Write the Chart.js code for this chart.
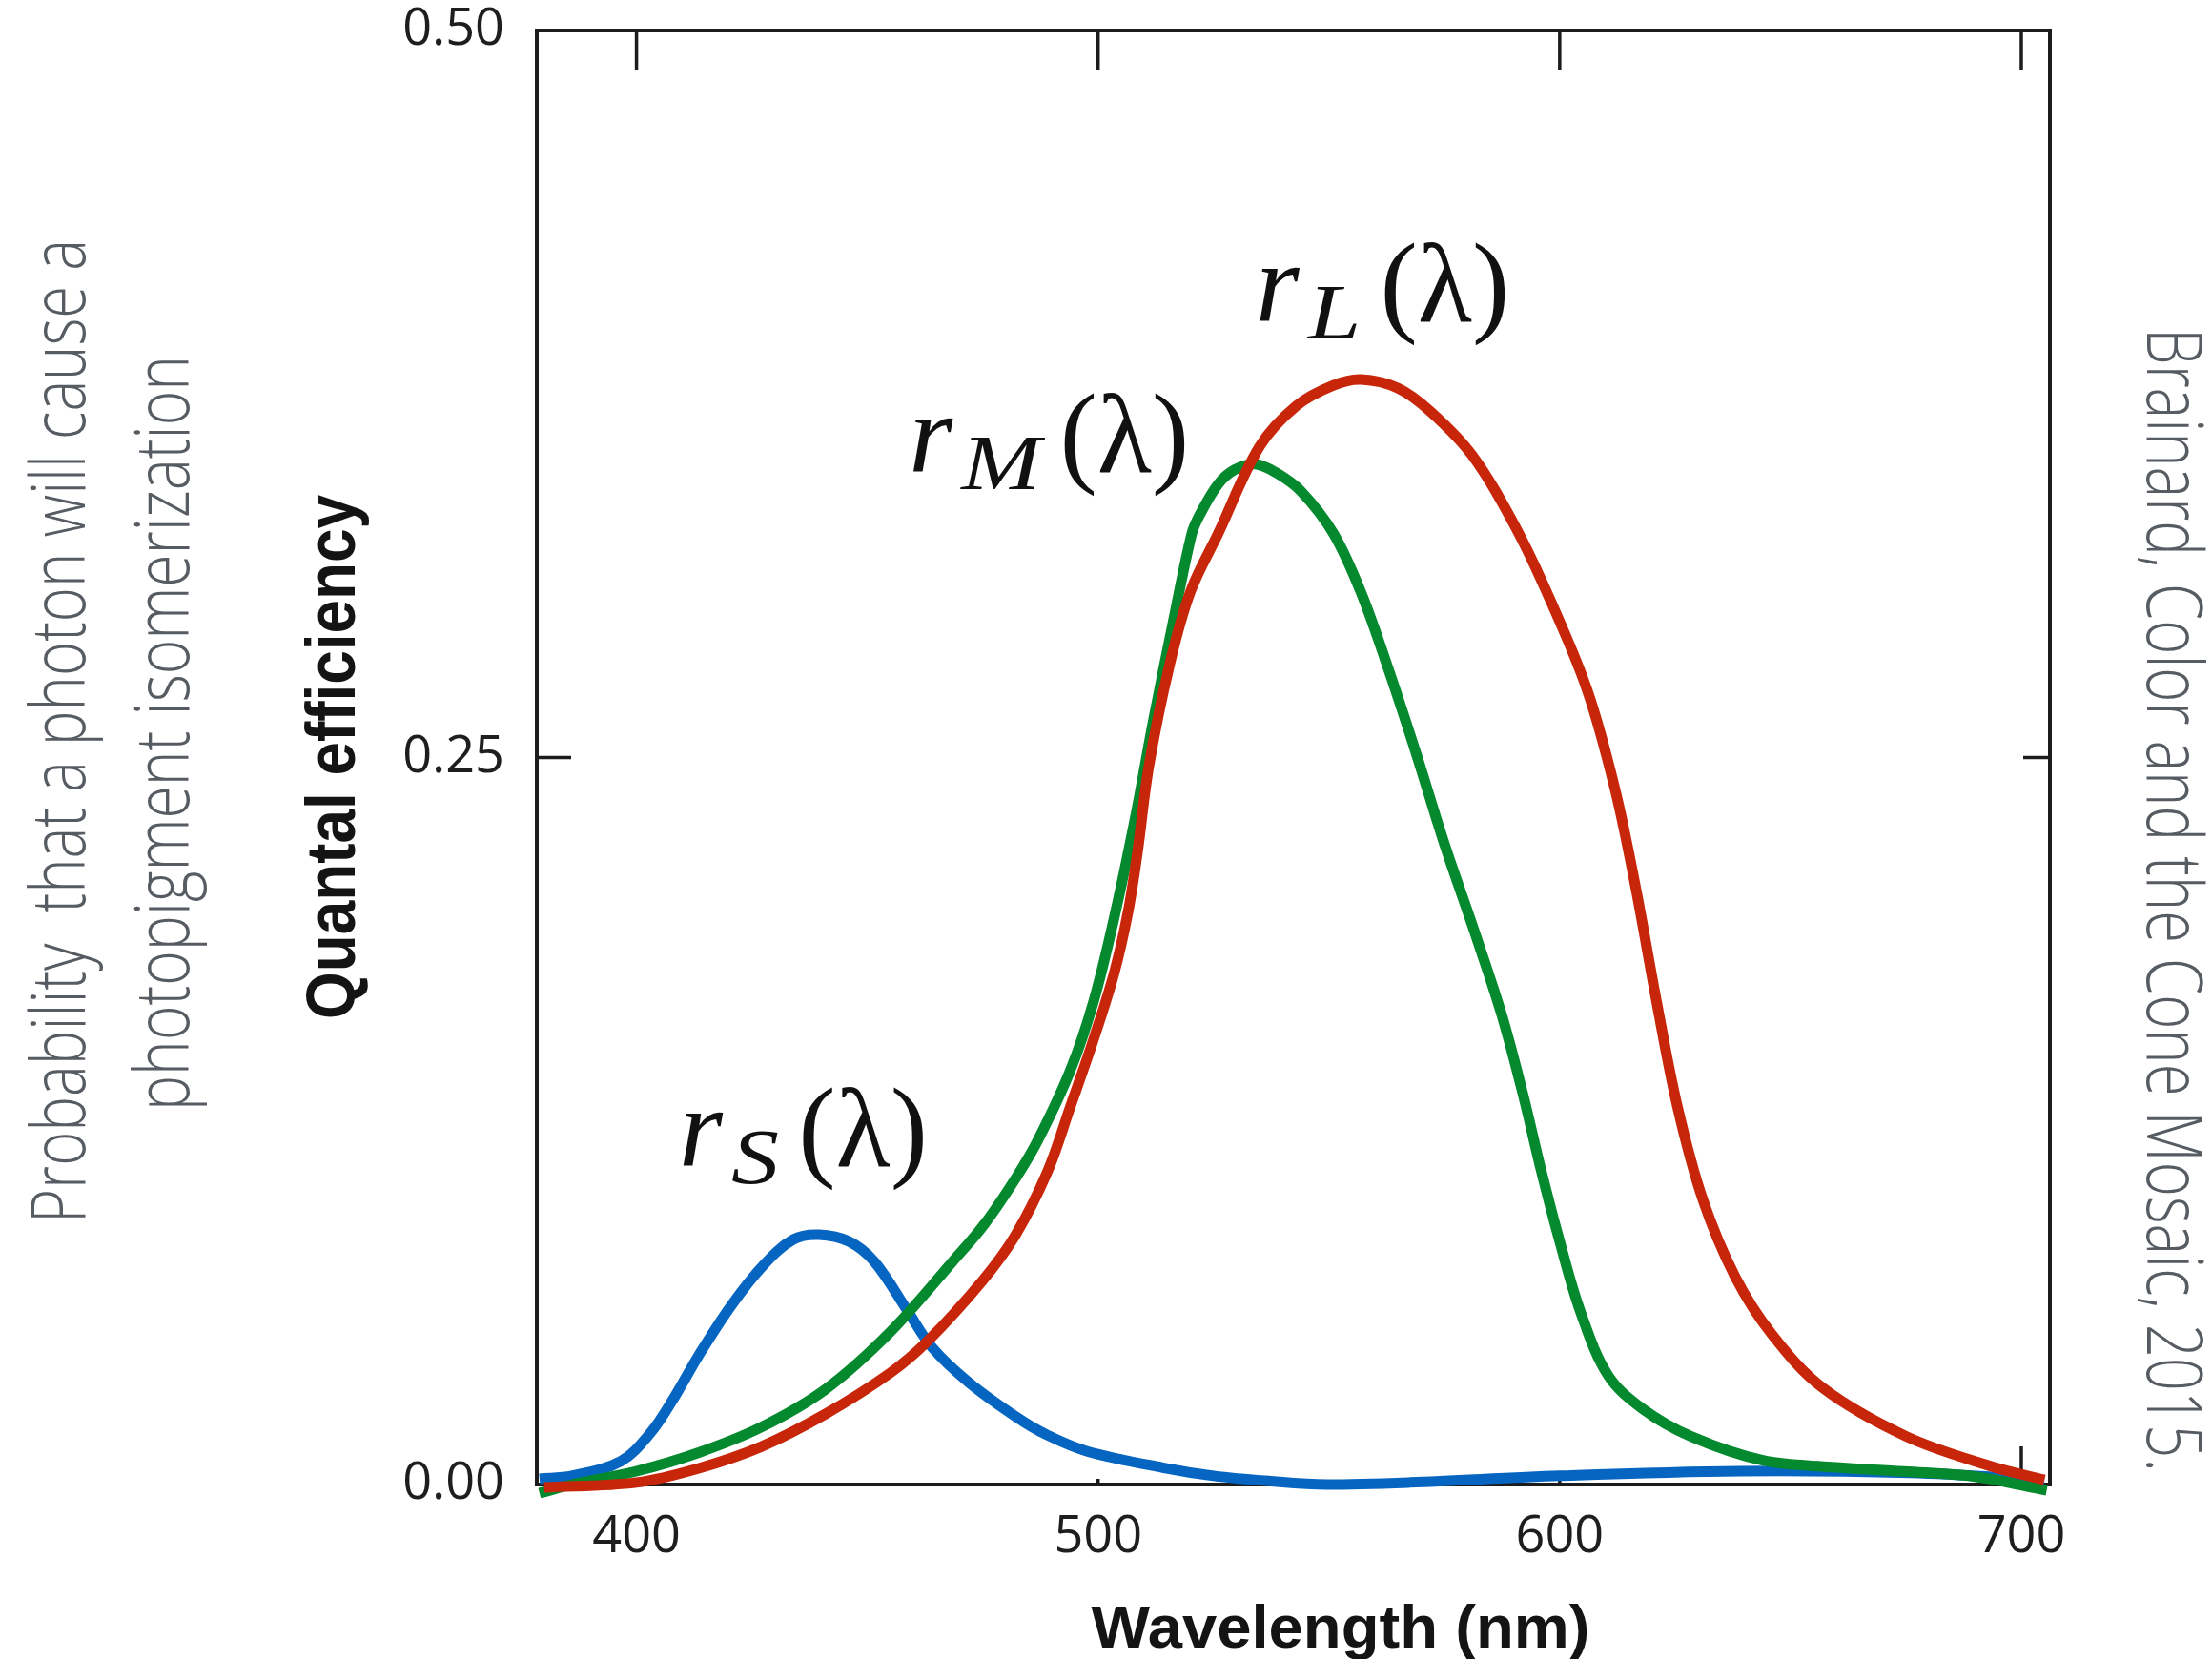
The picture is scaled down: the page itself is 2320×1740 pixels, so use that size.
<!DOCTYPE html>
<html>
<head>
<meta charset="utf-8">
<script src="https://cdn.jsdelivr.net/npm/chart.js@4.4.1/dist/chart.umd.min.js"></script>
<style>
  html, body { margin: 0; padding: 0; background: #fff; }
  #wrap { width: 2320px; height: 1740px; }
</style>
</head>
<body>
<div id="wrap"><canvas id="myChart" width="2320" height="1740"></canvas></div>
<script>
// L cone (red)
var lNm = [380, 400, 413.5, 427, 441, 455, 463, 475, 482, 489, 494, 499, 503.5, 506.5, 508.5, 511, 515.5, 520, 526, 535, 543, 551, 557, 565, 572, 581, 590.5, 598, 606, 612, 616.5, 621, 625.5, 631, 638, 646, 657, 675, 693, 705];
var lVal = [-0.001, 0.0007, 0.0056, 0.013, 0.0243, 0.0384, 0.0492, 0.0702, 0.0855, 0.1075, 0.130, 0.153, 0.176, 0.197, 0.217, 0.247, 0.282, 0.307, 0.327, 0.357, 0.371, 0.378, 0.380, 0.377, 0.369, 0.354, 0.329, 0.304, 0.273, 0.239, 0.205, 0.166, 0.13, 0.098, 0.0715, 0.0516, 0.0332, 0.0166, 0.0065, 0.0016];

// M cone (green)
var mNm = [379, 386, 400, 413.5, 427, 441, 455, 468.5, 475.5, 482.5, 487, 494, 499, 503.5, 508, 512, 516.3, 520.3, 522, 526, 529.5, 534, 538.5, 544, 551, 557, 563, 569, 575, 581.5, 587.5, 592, 596, 600, 604.5, 610.5, 618, 628.5, 644, 659, 674.5, 690, 705.5];
var mVal = [-0.003, 0.0, 0.0046, 0.011, 0.0197, 0.0328, 0.0525, 0.0767, 0.0898, 0.1062, 0.1185, 0.1425, 0.166, 0.195, 0.229, 0.263, 0.297, 0.327, 0.3334, 0.344, 0.3489, 0.3509, 0.348, 0.3415, 0.327, 0.3066, 0.2799, 0.2509, 0.2204, 0.1903, 0.1612, 0.1345, 0.1079, 0.0836, 0.0594, 0.0375, 0.026, 0.0165, 0.0083, 0.006, 0.0045, 0.0027, -0.002];

// S cone (blue)
var sNm = [379, 386, 396.5, 403, 408, 413.5, 420.5, 427.5, 434, 439.5, 446, 451.5, 458.5, 464, 472, 482.5, 489, 497.5, 514, 525, 537, 549.5, 567.5, 600, 639, 676, 705];
var sVal = [0.002, 0.003, 0.0079, 0.0177, 0.0295, 0.0445, 0.0615, 0.0754, 0.0843, 0.0859, 0.0836, 0.0767, 0.0603, 0.0472, 0.0351, 0.023, 0.017, 0.0115, 0.0058, 0.003, 0.0012, 0.0, 0.0007, 0.003, 0.0046, 0.004, 0.0016];

// curve labels r_S, r_M, r_L (anchored in data units)
var labelSubs = ["S", "M", "L"];
var labelNm = [409.2, 459.0, 534.1];
var labelQE = [0.1095, 0.3482, 0.400];

var xMin = 378.4, xMax = 706.2;
var yTicks = [0, 0.25, 0.5];

function toPoints(xs, ys) {
  var pts = [];
  for (var i = 0; i < xs.length; i++) pts.push({ x: xs[i], y: ys[i] });
  return pts;
}

function stretchText(ctx, text, cx, cy, rot, font, len, color) {
  ctx.save();
  ctx.translate(cx, cy);
  ctx.rotate(rot);
  ctx.font = font;
  var w = ctx.measureText(text).width;
  ctx.scale(len / w, 1);
  ctx.textAlign = "center";
  ctx.textBaseline = "alphabetic";
  ctx.fillStyle = color;
  ctx.fillText(text, 0, 0);
  ctx.restore();
}

function seg(ctx, x1, y1, x2, y2) {
  ctx.beginPath();
  ctx.moveTo(x1, y1);
  ctx.lineTo(x2, y2);
  ctx.stroke();
}

var framePlugin = {
  id: "frame",
  beforeDatasetsDraw: function (chart) {
    var ctx = chart.ctx, a = chart.chartArea;
    var xs = chart.scales.x, ys = chart.scales.y;
    var bottomLen = [6, 6, 6, 40];
    ctx.save();
    ctx.strokeStyle = "#1c1c1c";
    ctx.lineWidth = 4;
    ctx.strokeRect(a.left, a.top, a.right - a.left, a.bottom - a.top);
    ctx.lineWidth = 3.5;
    xs.ticks.forEach(function (t, i) {
      var px = xs.getPixelForValue(t.value);
      seg(ctx, px, a.top, px, a.top + 41);
      seg(ctx, px, a.bottom, px, a.bottom - (bottomLen[i] || 6));
    });
    ys.ticks.forEach(function (t) {
      var py = ys.getPixelForValue(t.value);
      seg(ctx, a.left, py, a.left + 36, py);
      seg(ctx, a.right, py, a.right - 28, py);
    });
    ctx.restore();
  },
  afterDatasetsDraw: function (chart) {
    var ctx = chart.ctx;
    var xs = chart.scales.x, ys = chart.scales.y;
    ctx.save();
    ctx.fillStyle = "#111";
    ctx.textAlign = "left";
    ctx.textBaseline = "alphabetic";
    for (var i = 0; i < labelSubs.length; i++) {
      var x0 = xs.getPixelForValue(labelNm[i]);
      var y0 = ys.getPixelForValue(labelQE[i]);
      ctx.font = 'italic 118px "Liberation Serif", serif';
      ctx.fillText("r", x0, y0);
      ctx.font = 'italic 82px "Liberation Serif", serif';
      var sw = ctx.measureText(labelSubs[i]).width;
      ctx.save();
      ctx.translate(x0 + 55, y0 + 18);
      ctx.scale(1.22, 1);
      ctx.fillText(labelSubs[i], 0, 0);
      ctx.restore();
      ctx.font = '118px "Liberation Serif", serif';
      ctx.fillText("(\u03bb)", x0 + 55 + sw * 1.22 + 20, y0);
    }
    ctx.restore();
  },
  afterDraw: function (chart) {
    var ctx = chart.ctx;
    var gray = "#575c63";
    stretchText(ctx, "Probability  that a photon will cause a", 89, 767, -Math.PI / 2, '300 80px "Open Sans", sans-serif', 1032, gray);
    stretchText(ctx, "photopigment isomerization", 198, 769, -Math.PI / 2, '300 80px "Open Sans", sans-serif', 792, gray);
    stretchText(ctx, "Quantal efficiency", 372, 794, -Math.PI / 2, 'bold 72px "Liberation Sans", sans-serif', 550, "#141414");
    stretchText(ctx, "Wavelength (nm)", 1406, 1728, 0, 'bold 63px "Liberation Sans", sans-serif', 523, "#141414");
    stretchText(ctx, "Brainard, Color and the Cone Mosaic, 2015.", 2252, 944, Math.PI / 2, '300 82px "Open Sans", sans-serif', 1200, gray);
  }
};

function lineSet(label, pts, color) {
  return {
    label: label,
    data: pts,
    borderColor: color,
    borderWidth: 11,
    pointRadius: 0,
    tension: 0.35,
    fill: false,
    clip: 14
  };
}

var ctx = document.getElementById("myChart").getContext("2d");
var myChart = new Chart(ctx, {
  type: "line",
  data: {
    datasets: [
      lineSet("L", toPoints(lNm, lVal), "#c8260a"),
      lineSet("M", toPoints(mNm, mVal), "#05892e"),
      lineSet("S", toPoints(sNm, sVal), "#0565c1")
    ]
  },
  options: {
    responsive: false,
    maintainAspectRatio: false,
    devicePixelRatio: 1,
    animation: false,
    layout: { padding: { left: 0, right: 170, top: 32, bottom: 0 } },
    plugins: {
      legend: { display: false },
      tooltip: { enabled: false },
      title: { display: false }
    },
    scales: {
      x: {
        type: "linear",
        min: xMin,
        max: xMax,
        grid: { display: false, drawTicks: false },
        border: { display: false },
        ticks: {
          stepSize: 100,
          includeBounds: false,
          padding: 23,
          color: "#1e1e1e",
          font: { family: '"Open Sans", sans-serif', size: 54 },
          maxRotation: 0
        },
        afterFit: function (scale) {
          scale.height = 183;
          scale.paddingLeft = 0;
          scale.paddingRight = 0;
        }
      },
      y: {
        min: 0,
        max: 0.5,
        grid: { display: false, drawTicks: false },
        border: { display: false },
        afterBuildTicks: function (scale) {
          scale.ticks = yTicks.map(function (v) { return { value: v }; });
        },
        ticks: {
          padding: 34,
          color: "#1e1e1e",
          font: { family: '"Open Sans", sans-serif', size: 54 },
          callback: function (v) { return Number(v).toFixed(2); }
        },
        afterFit: function (scale) {
          scale.width = 563;
          scale.paddingTop = 0;
          scale.paddingBottom = 0;
        }
      }
    }
  },
  plugins: [framePlugin]
});
</script>
</body>
</html>
